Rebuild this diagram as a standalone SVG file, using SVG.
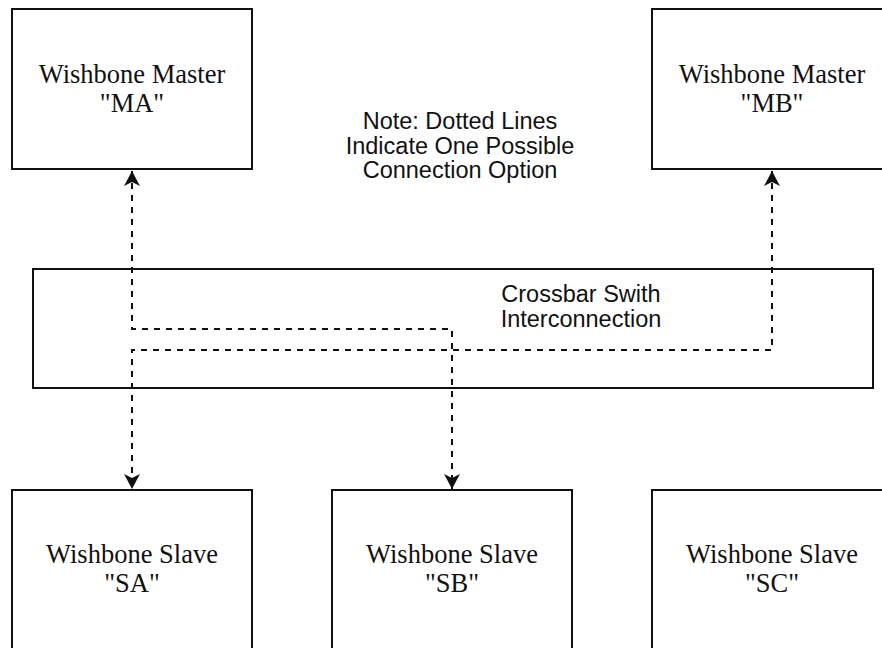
<svg xmlns="http://www.w3.org/2000/svg" width="882" height="648" viewBox="0 0 882 648">
<style>
.box{fill:#fff;stroke:#111;stroke-width:2}
.lbl{font-family:"Liberation Serif","Times New Roman",serif;font-size:26.5px;fill:#111;text-anchor:middle}
.sans{font-family:"Liberation Sans",Arial,sans-serif;font-size:23.5px;fill:#111;text-anchor:middle}
.conn{fill:none;stroke:#111;stroke-width:2;stroke-dasharray:6 6;marker-start:url(#arr);marker-end:url(#arr)}
</style>
<defs>
<marker id="arr" markerUnits="userSpaceOnUse" markerWidth="20" markerHeight="20" viewBox="-16 -10 18 20" refX="0" refY="0" orient="auto-start-reverse">
<path d="M0,0 L-15,-8 L-11,0 L-15,8 Z" fill="#111"/>
</marker>
</defs>
<rect width="882" height="648" fill="#fff"/>
<g id="crossbar">
<rect class="box" x="33" y="269" width="840" height="119"/>
<text class="sans" x="581" y="302">Crossbar Swith</text>
<text class="sans" x="581" y="327">Interconnection</text>
</g>
<g id="note">
<text class="sans" x="460" y="129">Note: Dotted Lines</text>
<text class="sans" x="460" y="154">Indicate One Possible</text>
<text class="sans" x="460" y="178">Connection Option</text>
</g>
<g id="MA">
<rect class="box" x="12" y="9" width="240" height="160"/>
<text class="lbl" x="132" y="83">Wishbone Master</text>
<text class="lbl" x="132" y="112">"MA"</text>
</g>
<g id="MB">
<rect class="box" x="652" y="9" width="240" height="160"/>
<text class="lbl" x="772" y="83">Wishbone Master</text>
<text class="lbl" x="772" y="112">"MB"</text>
</g>
<g id="SA">
<rect class="box" x="12" y="490" width="240" height="170"/>
<text class="lbl" x="132" y="563">Wishbone Slave</text>
<text class="lbl" x="132" y="592">"SA"</text>
</g>
<g id="SB">
<rect class="box" x="332" y="490" width="240" height="170"/>
<text class="lbl" x="452" y="563">Wishbone Slave</text>
<text class="lbl" x="452" y="592">"SB"</text>
</g>
<g id="SC">
<rect class="box" x="652" y="490" width="240" height="170"/>
<text class="lbl" x="772" y="563">Wishbone Slave</text>
<text class="lbl" x="772" y="592">"SC"</text>
</g>
<g id="connectors">
<path class="conn" d="M132,171 L132,329 L452,329 L452,489"/>
<path class="conn" d="M772,171 L772,350 L132,350 L132,489"/>
</g>
</svg>
